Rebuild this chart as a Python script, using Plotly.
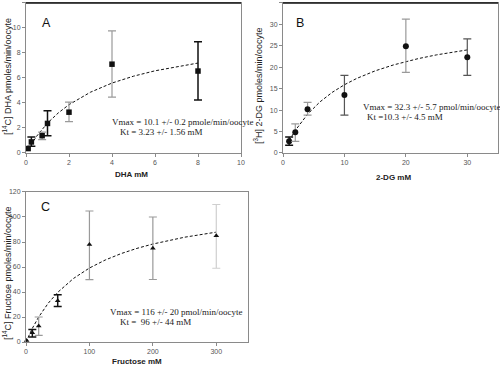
import plotly.graph_objects as go

# ---------------- data ----------------
# Panel A: DHA
dha_x = [0.1, 0.25, 0.75, 1, 2, 4, 8]
dha_y = [0.35, 0.88, 1.38, 2.36, 3.26, 7.1, 6.55]
dha_hi = [None, 1.27, 1.67, 3.37, 4.06, 9.76, 8.9]
dha_lo = [None, 0.53, 1.06, 1.38, 2.5, 4.46, 4.24]
dha_fit_x = [0.1, 0.5, 1, 1.5, 2, 3, 4, 5, 6, 7, 8]
dha_fit_y = [0.30, 1.35, 2.39, 3.20, 3.86, 4.86, 5.59, 6.14, 6.57, 6.91, 7.19]

# Panel B: 2-DG
dg_x = [1, 2, 4, 10, 20, 30]
dg_y = [2.7, 4.8, 10.2, 13.5, 24.9, 22.3]
dg_hi = [3.7, 6.8, 11.8, 18.1, 31.2, 26.6]
dg_lo = [1.8, 2.7, 8.8, 8.8, 18.8, 18.1]
dg_fit_x = [1, 2, 4, 6, 8, 10, 12, 15, 18, 20, 22, 25, 28, 30]
dg_fit_y = [2.86, 5.25, 9.03, 11.89, 14.12, 15.91, 17.38, 19.15, 20.54, 21.32, 22.0, 22.88, 23.61, 24.04]

# Panel C: Fructose
fru_x = [1, 10, 20, 50, 100, 200, 300]
fru_y = [1.3, 7.5, 12.8, 33, 78, 75, 85]
fru_hi = [None, 10, 20, 37.9, 104.8, 100, 110]
fru_lo = [None, 4, 5.3, 28.5, 49.9, 50, 59]
fru_fit_x = [0, 5, 10, 20, 35, 50, 75, 100, 125, 150, 175, 200, 250, 300]
fru_fit_y = [0, 5.74, 10.94, 20.0, 30.99, 39.73, 50.88, 59.18, 65.61, 70.73, 74.91, 78.38, 83.82, 87.88]

# ---------------- styles ----------------
BLK = "#111111"
GRY = "#9a9a9a"
DGR = "#555555"
LGR = "#cfcfcf"
dha_ecol = [BLK, BLK, GRY, BLK, GRY, GRY, BLK]
dg_ecol = [BLK, GRY, GRY, DGR, GRY, DGR]
fru_ecol = [BLK, BLK, GRY, BLK, GRY, GRY, LGR]

fig = go.Figure()


def add_panel(xs, ys, his, los, cols, fx, fy, sym, xa, ya, msize):
    fig.add_trace(go.Scatter(x=fx, y=fy, mode="lines", line=dict(color="#111", width=1, dash="3px,2px"),
                             xaxis=xa, yaxis=ya, showlegend=False, hoverinfo="skip"))
    for x, y, h, l, c in zip(xs, ys, his, los, cols):
        ey = None
        if h is not None:
            ey = dict(type="data", symmetric=False, array=[h - y], arrayminus=[y - l],
                      color=c, thickness=1.5 if c == BLK else 1.2, width=4)
        fig.add_trace(go.Scatter(x=[x], y=[y], mode="markers", error_y=ey,
                                 marker=dict(symbol=sym, size=msize, color="#111"),
                                 xaxis=xa, yaxis=ya, showlegend=False, cliponaxis=False))


add_panel(dha_x, dha_y, dha_hi, dha_lo, dha_ecol, dha_fit_x, dha_fit_y, "square", "x", "y", 5.5)
add_panel(dg_x, dg_y, dg_hi, dg_lo, dg_ecol, dg_fit_x, dg_fit_y, "circle", "x2", "y2", 6)
add_panel(fru_x, fru_y, fru_hi, fru_lo, fru_ecol, fru_fit_x, fru_fit_y, "triangle-up", "x3", "y3", 5)

tickfont = dict(family="Liberation Sans, Arial", size=7, color="#555")
ax_common = dict(showgrid=False, zeroline=False, showline=True, linecolor="#8a8a8a", linewidth=1,
                 mirror=True, ticks="outside", ticklen=3, tickcolor="#8a8a8a", tickfont=tickfont,
                 automargin=False)

fig.update_layout(
    width=500, height=365, margin=dict(l=0, r=0, t=0, b=0, autoexpand=False),
    paper_bgcolor="white", plot_bgcolor="white",
    xaxis=dict(domain=[0.052, 0.482], range=[0, 10], tickvals=[0, 2, 4, 6, 8, 10], anchor="y", **ax_common),
    yaxis=dict(domain=[0.581, 0.992], range=[0, 12], tickvals=[0, 2, 4, 6, 8, 10, 12], anchor="x", **ax_common),
    xaxis2=dict(domain=[0.566, 0.996], range=[0, 35], tickvals=[0, 10, 20, 30], anchor="y2", **ax_common),
    yaxis2=dict(domain=[0.581, 0.992], range=[0, 35], tickvals=[0, 5, 10, 15, 20, 25, 30, 35], anchor="x2", **ax_common),
    xaxis3=dict(domain=[0.052, 0.496], range=[0, 350], tickvals=[0, 100, 200, 300], anchor="y3", **ax_common),
    yaxis3=dict(domain=[0.063, 0.474], range=[0, 120], tickvals=[0, 20, 40, 60, 80, 100, 120], anchor="x3", **ax_common),
)

# black top borders on A and B
for xr, yr in [("x domain", "y domain"), ("x2 domain", "y2 domain")]:
    fig.add_shape(type="line", xref=xr, yref=yr, x0=0, x1=1, y0=1, y1=1, line=dict(color="#111", width=1.5))

serif = dict(family="Liberation Serif, Times New Roman", size=9, color="#222")
sans_title = dict(family="Liberation Sans, Arial", size=8, color="#222")
ytitle = dict(family="Liberation Sans, Arial", size=9, color="#222")
letter = dict(family="Liberation Sans, Arial", size=12.5, color="#111")

ann = []
# panel letters
ann.append(dict(text="A", x=46.7 / 500, y=1 - 22.7 / 365, xref="paper", yref="paper", font=letter))
ann.append(dict(text="B", x=300 / 500, y=1 - 22.7 / 365, xref="paper", yref="paper", font=letter))
ann.append(dict(text="C", x=45 / 500, y=1 - 206.7 / 365, xref="paper", yref="paper", font=letter))
# fit parameter text
ann.append(dict(text="Vmax = 10.1 +/- 0.2 pmole/min/oocyte", x=3.9, y=2.48, xref="x", yref="y", xanchor="left", font=serif))
ann.append(dict(text="Kt = 3.23 +/- 1.56 mM", x=4.3, y=1.68, xref="x", yref="y", xanchor="left", font=serif))
ann.append(dict(text="Vmax = 32.3 +/- 5.7 pmol/min/oocyte", x=12.75, y=10.7, xref="x2", yref="y2", xanchor="left", font=serif))
ann.append(dict(text="Kt =10.3 +/- 4.5 mM", x=13.4, y=8.4, xref="x2", yref="y2", xanchor="left", font=serif))
ann.append(dict(text="Vmax = 116 +/- 20 pmol/min/oocyte", x=129, y=24.2, xref="x3", yref="y3", xanchor="left", font=serif))
ann.append(dict(text="Kt =  96 +/- 44 mM", x=145, y=16.2, xref="x3", yref="y3", xanchor="left", font=serif))
# axis titles
ann.append(dict(text="<b>DHA mM</b>", x=131.7 / 500, y=1 - 174.5 / 365, xref="paper", yref="paper", font=sans_title))
ann.append(dict(text="<b>2-DG mM</b>", x=393 / 500, y=1 - 177 / 365, xref="paper", yref="paper", font=sans_title))
ann.append(dict(text="<b>Fructose mM</b>", x=137 / 500, y=1 - 361 / 365, xref="paper", yref="paper", font=sans_title))
ann.append(dict(text="[<sup>14</sup>C] DHA pmoles/min/oocyte", x=7 / 500, y=1 - 77 / 365, xref="paper", yref="paper",
                textangle=-90, font=ytitle))
ann.append(dict(text="[<sup>3</sup>H] 2-DG pmoles/min/oocyte", x=258 / 500, y=1 - 86 / 365, xref="paper", yref="paper",
                textangle=-90, font=ytitle))
ann.append(dict(text="[<sup>14</sup>C] Fructose pmoles/min/oocyte", x=7 / 500, y=1 - 273 / 365, xref="paper", yref="paper",
                textangle=-90, font=ytitle))
for a in ann:
    a.setdefault("showarrow", False)
    a.setdefault("xanchor", "center")
    a.setdefault("yanchor", "middle")
fig.update_layout(annotations=ann)

fig.write_html("out.html", config={"displayModeBar": False},
               post_script="document.body.style.margin='0';")
